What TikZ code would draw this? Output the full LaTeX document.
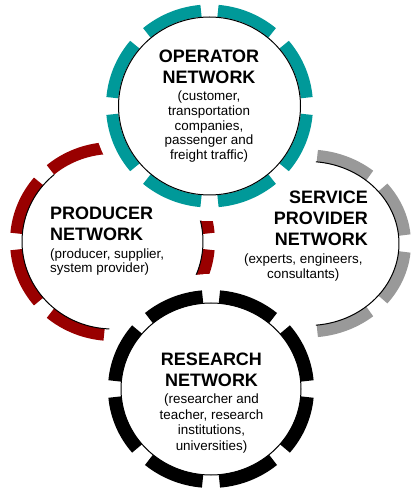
\documentclass[tikz,border=0pt]{standalone}
\usepackage{fontspec}
\setmainfont{Liberation Sans}
\usetikzlibrary{positioning}
\definecolor{opteal}{RGB}{0,153,153}
\definecolor{prred}{RGB}{153,0,0}
\definecolor{svgray}{RGB}{153,153,153}
\tikzstyle{cover}=[fill=white,draw=none]
\tikzstyle{rim}=[draw=black,line width=1pt]
\tikzstyle{opring}=[draw=opteal,line width=12pt]
\tikzstyle{prring}=[draw=prred,line width=12pt]
\tikzstyle{svring}=[draw=svgray,line width=12pt]
\tikzstyle{rsring}=[draw=black,line width=13pt]
\tikzstyle{nettitle}=[inner sep=0pt,font=\bfseries\fontsize{18}{20.7}\selectfont]
\tikzstyle{netsub}=[inner sep=0pt,font=\fontsize{13.4}{14.6}\selectfont]

\begin{document}
\begin{tikzpicture}[x=1pt,y=1pt]
            \useasboundingbox (0,0) rectangle (412,491);

            % centres
            \coordinate (sv) at (308,247.5);
            \coordinate (pr) at (112.5,249.5);
            \coordinate (op) at (209.5,385);
            \coordinate (rs) at (211,102);

            % SERVICE PROVIDER PART

            \fill[cover] (sv) ellipse [x radius=103pt,y radius=94pt];
            \foreach \a in {0,45,...,315}
              \draw[svring] ([shift={(\a+5.5:97pt and 88pt)}]sv) arc [start angle=\a+5.5,end angle=\a+39.5,x radius=97pt,y radius=88pt];
            \draw[rim] ([shift={(-85:91pt and 82pt)}]sv) arc [start angle=-85,end angle=85,x radius=91pt,y radius=82pt];

            % PRODUCER PART

            \fill[cover] (pr) ellipse [x radius=124pt,y radius=101pt];
            \foreach \a in {0,45,...,315}
              \draw[prring] ([shift={(\a+5:96.5pt and 93.5pt)}]pr) arc [start angle=\a+5,end angle=\a+40,x radius=96.5pt,y radius=93.5pt];
            \draw[rim] ([shift={(130:90.5pt and 87.5pt)}]pr) arc [start angle=130,end angle=268,x radius=90.5pt,y radius=87.5pt];
            \draw[rim] ([shift={(-35:90.5pt and 87.5pt)}]pr) arc [start angle=-35,end angle=35,x radius=90.5pt,y radius=87.5pt];

            % OPERATOR PART

            \fill[cover] (op) ellipse [x radius=117pt,y radius=115pt];
            \foreach \a in {0,45,...,315}
              \draw[opring] ([shift={(\a+5:97.5pt and 95.5pt)}]op) arc [start angle=\a+5,end angle=\a+40,x radius=97.5pt,y radius=95.5pt];
            \draw[rim] (op) ellipse [x radius=91pt,y radius=89pt];

            % RESEARCH PART

            \fill[cover] (rs) ellipse [x radius=117pt,y radius=115pt];
            \foreach \a in {0,45,...,315}
              \draw[rsring] ([shift={(\a+5:96.5pt and 92.5pt)}]rs) arc [start angle=\a+5,end angle=\a+40,x radius=96.5pt,y radius=92.5pt];
            \draw[rim] (rs) ellipse [x radius=90pt,y radius=86pt];

            % Texts

            \node[nettitle,align=center,anchor=north] (optitle) at (209,441) {OPERATOR\\NETWORK};
            \node[netsub,align=center,below=7.2pt of optitle] (opsub) {(customer,\\transportation\\companies,\\passenger and\\freight traffic)};

            \node[nettitle,align=left,anchor=north west] (prtitle) at (50,284.3) {PRODUCER\\NETWORK};
            \node[netsub,align=left,font=\fontsize{13.4}{13.3}\selectfont,below=8.5pt of prtitle.south west,anchor=north west] (prsub) {(producer, supplier,\\system provider)};

            \node[nettitle,align=right,anchor=north east] (svtitle) at (368,299.8) {SERVICE\\PROVIDER\\NETWORK};
            \node[netsub,align=center,font=\fontsize{13.4}{15}\selectfont,below=8.3pt of svtitle.south,xshift=-17.5pt] (svsub) {(experts, engineers,\\consultants)};

            \node[nettitle,align=center,anchor=north] (rstitle) at (211.5,137.8) {RESEARCH\\NETWORK};
            \node[netsub,align=center,font=\fontsize{13.4}{15.5}\selectfont,below=7pt of rstitle] (rssub) {(researcher and\\teacher, research\\institutions,\\universities)};

\end{tikzpicture}
\end{document}
